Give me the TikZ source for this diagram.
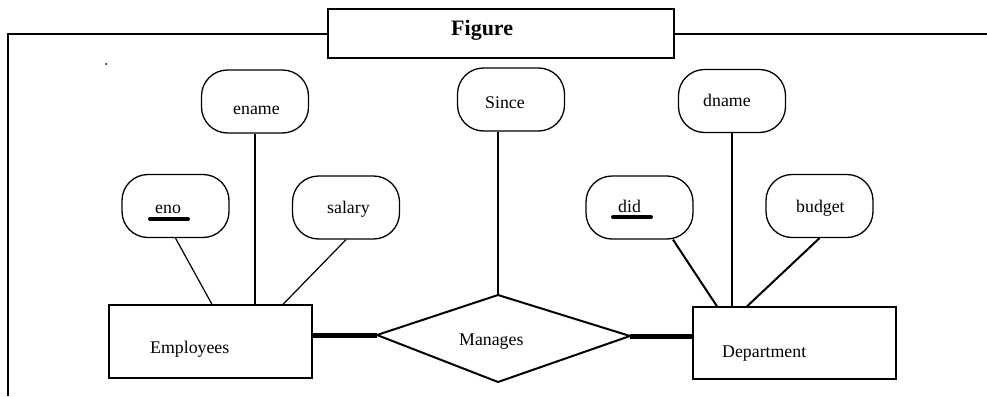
\documentclass[tikz,border=0pt]{standalone}
\usepackage{fontspec}
\setmainfont{Liberation Serif}
\begin{document}
\begin{tikzpicture}[x=1pt,y=-1pt,
  attr/.style={draw,line width=1.3pt,rectangle,rounded corners=26pt,minimum width=107pt,minimum height=63pt,inner sep=0pt},
  ent/.style={draw,line width=1.3pt,rectangle,minimum width=203pt,minimum height=73pt,inner sep=0pt},
  lbl/.style={anchor=base west,inner sep=0pt,font=\fontsize{17.8}{20}\selectfont},
  conn/.style={line width=1.2pt},
  conn2/.style={line width=2pt},
  ul/.style={line width=4pt,line cap=round},
  heavy/.style={line width=5pt},
  frame/.style={line width=2pt}]
\useasboundingbox (0,0) rectangle (987,396);
% title and frame
\node[draw,line width=2pt,minimum width=346pt,minimum height=49pt,inner sep=0pt] (title) at (501,33.5) {};
\node[anchor=base west,inner sep=0pt,font=\fontsize{22}{26}\selectfont\bfseries] (titlet) at (451,36) {Figure};
\coordinate (fl) at (8,34);
\coordinate (fb) at (8,396);
\coordinate (fr) at (987,34);
\draw[frame] (title.west |- fl) -- (fl) -- (fb);
\draw[frame] (title.east |- fr) -- (fr);
\fill (106,64) circle (1);
% attributes
\node[attr] (ename) at (255,101.5) {};
\node[attr] (since) at (511,99.5) {};
\node[attr] (dname) at (732,101) {};
\node[attr] (eno) at (175.5,206) {};
\node[attr] (salary) at (346,207.5) {};
\node[attr] (did) at (639.5,207.5) {};
\node[attr] (budget) at (819.5,206) {};
\node[lbl] (enamet) at (233,114) {ename};
\node[lbl] (sincet) at (485,108) {Since};
\node[lbl] (dnamet) at (703,106) {dname};
\node[lbl] (enot) at (155,213) {eno};
\node[lbl] (salaryt) at (327,213) {salary};
\node[lbl] (didt) at (618,212) {did};
\node[lbl] (budgett) at (796,212) {budget};
\draw[ul] ([shift={(-5,6)}]enot.base west) -- ([shift={(33,6)}]enot.base west);
\draw[ul] ([shift={(-5,5)}]didt.base west) -- ([shift={(33,5)}]didt.base west);
% entities
\node[ent] (emp) at (210.5,341.5) {};
\node[ent,minimum height=72pt] (dept) at (794.5,343) {};
\node[lbl] (empt) at (150,353) {Employees};
\node[lbl] (deptt) at (722,357) {Department};
% relationship
\coordinate (dl) at (377,335);
\coordinate (dt) at (498,295);
\coordinate (dr) at (630,336);
\coordinate (db) at (498,382);
\draw[line width=2pt,line join=miter] (dl) -- (dt) -- (dr) -- (db) -- cycle;
\node[lbl] (mant) at (459,345) {Manages};
\draw[heavy] (emp.east |- dl) -- (dl);
\draw[heavy] (dr) -- (dept.west |- dr);
% connectors
\draw[conn] (eno.south) -- ([xshift=1.5pt]emp.north);
\draw[conn] (ename.south) -- (ename.south |- emp.north);
\draw[conn] (salary.south) -- ([xshift=72.5pt]emp.north);
\draw[conn2] (since.south -| dt) -- (dt);
\draw[conn2] ([xshift=33.5pt]did.south) -- ([xshift=-77.5pt]dept.north);
\draw[conn2] (dname.south) -- (dname.south |- dept.north);
\draw[conn2] (budget.south) -- ([xshift=-47.5pt]dept.north);
\end{tikzpicture}
\end{document}
